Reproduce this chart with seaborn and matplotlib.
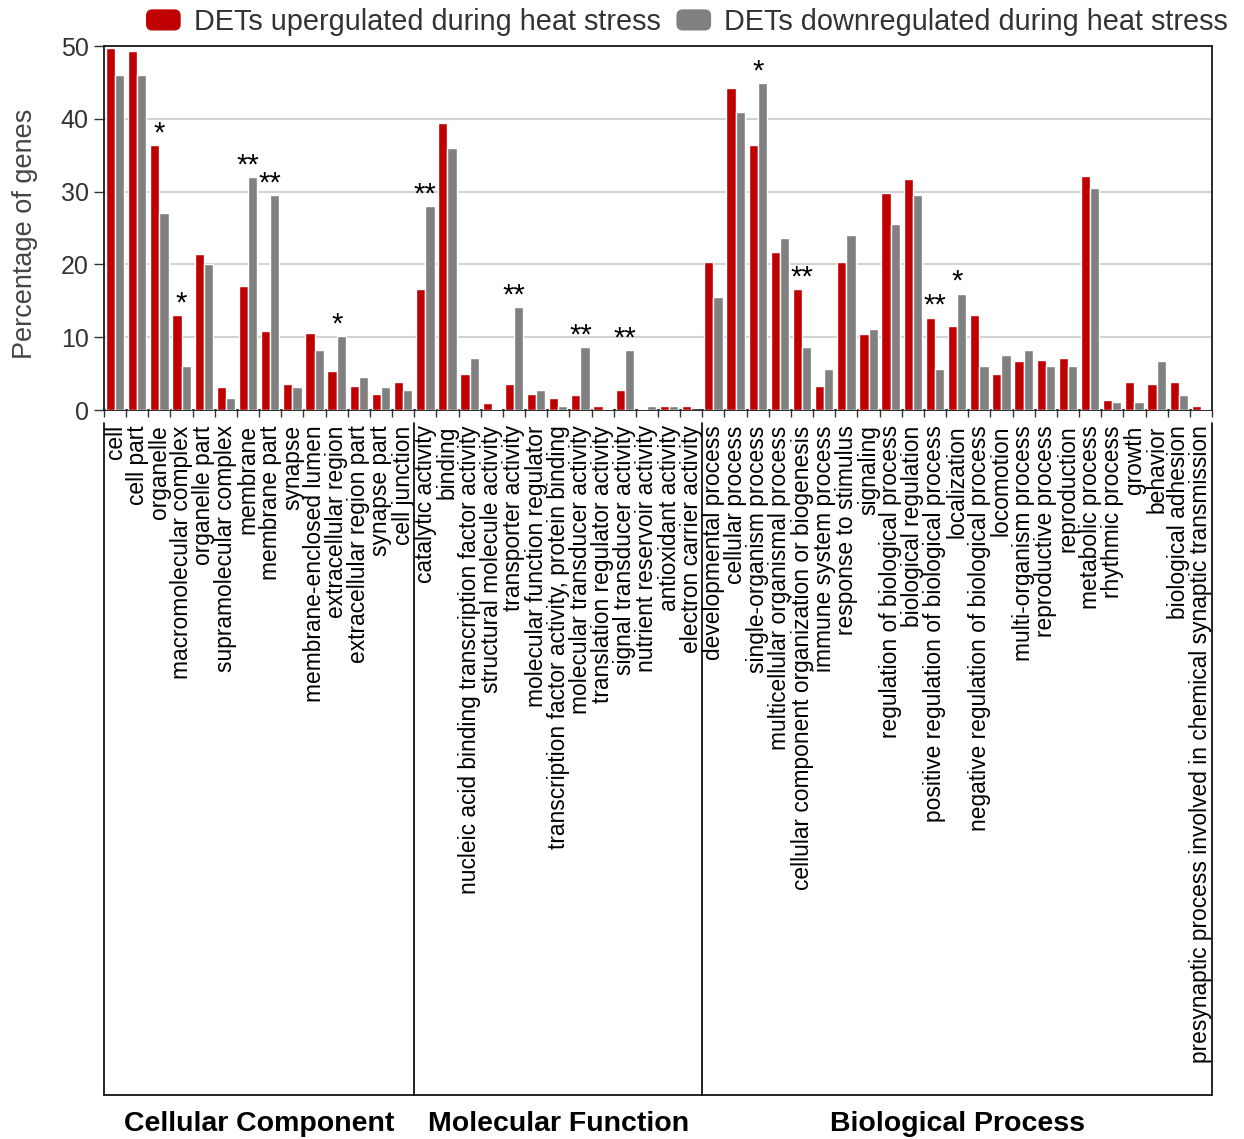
import numpy as np
import pandas as pd
import matplotlib
matplotlib.use("Agg")
import matplotlib.pyplot as plt
import seaborn as sns
from matplotlib.patches import FancyBboxPatch, Patch
from matplotlib.legend_handler import HandlerPatch

# ---------------- data ----------------
cc_terms = ["cell", "cell part", "organelle", "macromolecular complex", "organelle part",
            "supramolecular complex", "membrane", "membrane part", "synapse",
            "membrane-enclosed lumen", "extracellular region", "extracellular region part",
            "synapse part", "cell junction"]
mf_terms = ["catalytic activity", "binding", "nucleic acid binding transcription factor activity",
            "structural molecule activity", "transporter activity", "molecular function regulator",
            "transcription factor activity, protein binding", "molecular transducer activity",
            "translation regulator activity", "signal transducer activity",
            "nutrient reservoir activity", "antioxidant activity", "electron carrier activity"]
bp_terms = ["developmental process", "cellular process", "single-organism process",
            "multicellular organismal process", "cellular component organization or biogenesis",
            "immune system process", "response to stimulus", "signaling",
            "regulation of biological process", "biological regulation",
            "positive regulation of biological process", "localization",
            "negative regulation of biological process", "locomotion", "multi-organism process",
            "reproductive process", "reproduction", "metabolic process", "rhythmic process",
            "growth", "behavior", "biological adhesion",
            "presynaptic process involved in chemical synaptic transmission"]

up_cc = [49.7, 49.3, 36.4, 13.0, 21.4, 3.1, 17.0, 10.9, 3.6, 10.6, 5.3, 3.3, 2.2, 3.9]
down_cc = [46.0, 46.0, 27.0, 6.1, 20.0, 1.6, 32.0, 29.5, 3.1, 8.2, 10.1, 4.6, 3.1, 2.7]
up_mf = [16.6, 39.4, 4.9, 0.9, 3.6, 2.2, 1.7, 2.0, 0.6, 2.8, 0.1, 0.5, 0.6]
down_mf = [28.0, 36.0, 7.1, 0.1, 14.1, 2.7, 0.6, 8.6, 0.1, 8.2, 0.6, 0.6, 0.05]
up_bp = [20.3, 44.2, 36.4, 21.7, 16.6, 3.3, 20.3, 10.4, 29.8, 31.7, 12.7, 11.5, 13.0,
         4.9, 6.7, 6.8, 7.1, 32.1, 1.4, 3.9, 3.6, 3.9, 0.5]
down_bp = [15.5, 40.9, 44.9, 23.6, 8.6, 5.6, 24.0, 11.1, 25.5, 29.5, 5.6, 16.0, 6.1,
           7.6, 8.2, 6.1, 6.1, 30.5, 1.1, 1.1, 6.7, 2.1, 0.1]

sig_cc = ["", "", "*", "*", "", "", "**", "**", "", "", "*", "", "", ""]
sig_mf = ["**", "", "", "", "**", "", "", "**", "", "**", "", "", ""]
sig_bp = ["", "", "*", "", "**", "", "", "", "", "", "**", "*", "", "", "", "", "", "",
          "", "", "", "", ""]

group_names = ["Cellular Component", "Molecular Function", "Biological Process"]
series_names = ["DETs upergulated during heat stress", "DETs downregulated during heat stress"]

categories = cc_terms + mf_terms + bp_terms
up_values = up_cc + up_mf + up_bp
down_values = down_cc + down_mf + down_bp
significance = sig_cc + sig_mf + sig_bp
group_sizes = [len(cc_terms), len(mf_terms), len(bp_terms)]

df = pd.DataFrame({
    "term": categories * 2,
    "series": [series_names[0]] * len(categories) + [series_names[1]] * len(categories),
    "value": up_values + down_values,
})

RED = "#C00000"
GRAY = "#808080"

# ---------------- figure ----------------
sns.set_style("white")
plt.rcParams["font.family"] = ["Liberation Sans", "DejaVu Sans"]

W, H = 1244, 1139
fig = plt.figure(figsize=(W / 100, H / 100), dpi=100)
ax_l, ax_r, ax_t, ax_b = 104, 1212, 46, 410
ax = fig.add_axes([ax_l / W, 1 - ax_b / H, (ax_r - ax_l) / W, (ax_b - ax_t) / H])

sns.barplot(data=df, x="term", y="value", hue="series", order=categories,
            hue_order=series_names, palette=[RED, GRAY], width=0.83, gap=0,
            saturation=1, legend=False, ax=ax, zorder=3)

n = len(categories)
ax.set_xlim(-0.5, n - 0.5)
ax.set_ylim(0, 50)
ax.set_yticks([0, 10, 20, 30, 40, 50])
ax.yaxis.grid(True, color="#d2d2d2", linewidth=1.5, zorder=0)
ax.xaxis.grid(False)
ax.set_axisbelow(True)
for sp in ax.spines.values():
    sp.set_visible(True)
    sp.set_color("#1a1a1a")
    sp.set_linewidth(1.3)

ax.tick_params(axis="y", which="major", length=7, width=1, color="#333333",
               labelsize=18, labelcolor="#333333", pad=4, left=True)
ax.set_xticks(range(n))
ax.set_xticklabels(categories, rotation=90, fontsize=16.4, color="black")
ax.tick_params(axis="x", which="major", length=0, pad=11)
ax.set_xticks(np.arange(-0.5, n, 1.0), minor=True)
ax.tick_params(axis="x", which="minor", length=5, width=1, color="#333333", bottom=True)
ax.set_xlabel("")
ax.set_ylabel("Percentage of genes", fontsize=19.5, color="#444444", va="center")
ax.yaxis.set_label_coords((25 - ax_l) / (ax_r - ax_l), 0.484)

# significance stars
for i, s in enumerate(significance):
    if s:
        ax.text(i, max(up_values[i], down_values[i]) - 0.3, s, ha="center", va="bottom",
                fontsize=21, color="black", zorder=5)

# group boxes under the labels
trans = ax.get_xaxis_transform()
y_top = (ax_b - 423) / (ax_b - ax_t)
y_bot = (ax_b - 1095) / (ax_b - ax_t)
y_grp = (ax_b - 1124) / (ax_b - ax_t)
bounds = [-0.5]
for g in group_sizes:
    bounds.append(bounds[-1] + g)
for b in bounds:
    ax.plot([b, b], [y_top, y_bot], transform=trans, color="black", lw=1.2, clip_on=False)
ax.plot([bounds[0], bounds[-1]], [y_bot, y_bot], transform=trans, color="black", lw=1.2,
        clip_on=False)
for k, name in enumerate(group_names):
    ax.text((bounds[k] + bounds[k + 1]) / 2, y_grp, name, transform=trans, ha="center",
            va="center", fontsize=20.5, fontweight="bold", color="black")

# legend with rounded patches
class RoundHandler(HandlerPatch):
    def create_artists(self, legend, orig_handle, xdescent, ydescent, width, height,
                       fontsize, trans):
        p = FancyBboxPatch((-xdescent, -ydescent), width, height,
                           boxstyle="round,pad=0,rounding_size=%f" % (height * 0.3),
                           facecolor=orig_handle.get_facecolor(), edgecolor="none",
                           transform=trans)
        return [p]

handles = [Patch(facecolor=RED), Patch(facecolor=GRAY)]
fig.legend(handles, series_names, loc="center", bbox_to_anchor=(687 / W, 1 - 22 / H),
           ncol=2, frameon=False, fontsize=20.8, handlelength=1.2, handleheight=0.75,
           handletextpad=0.45, columnspacing=0.55, labelcolor="#333333",
           handler_map={Patch: RoundHandler()})

fig.savefig("out.png", dpi=100)
